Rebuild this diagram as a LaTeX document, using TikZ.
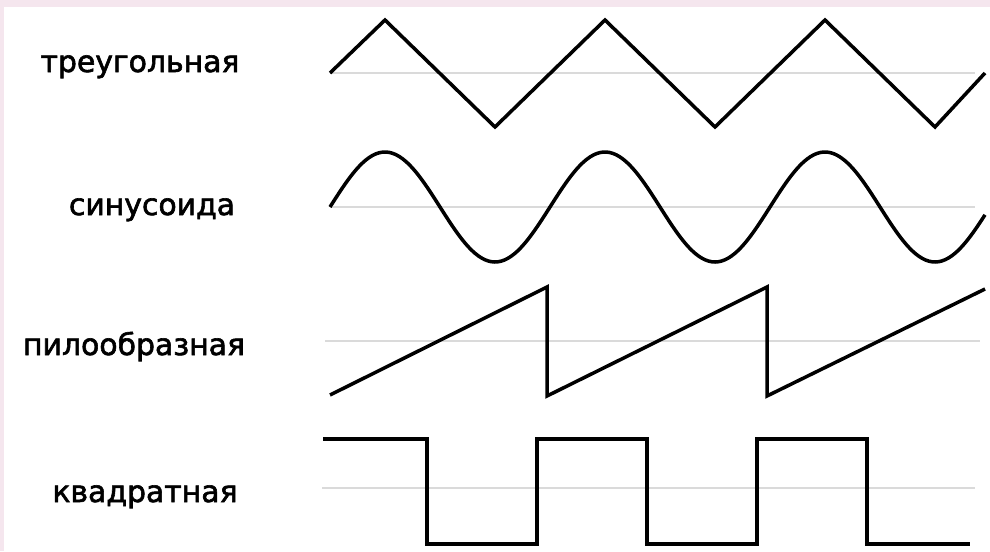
\documentclass[tikz,border=0pt]{standalone}
\usepackage{fontspec}
\setmainfont{DejaVu Sans}
\newfontfamily\labelfont{DejaVu Sans}[FakeBold=2]
\usepackage{tikz}
\usetikzlibrary{positioning}
\definecolor{framepink}{RGB}{245, 230, 238}
\definecolor{axisgray}{RGB}{218, 218, 218}

\begin{document}
\begin{tikzpicture}[x=0.02cm, y=-0.02cm,
    wave/.style={black, line width=2pt, line join=miter},
    axis/.style={axisgray, line width=1.1pt},
    label/.style={anchor=base, font=\labelfont\fontsize{17}{19}\selectfont, inner sep=0pt}]
      \useasboundingbox (0,0) rectangle (990,551);
      \fill[framepink] (0,0) rectangle (990,551);
      \fill[white] (4,7) rectangle (990,551);
      % labels
      \node[label] (tri) at (140,72) {треугольная};
      \node[label] (sin) at (152,215) {синусоида};
      \node[label] (saw) at (134,355) {пилообразная};
      \node[label] (sqr) at (145,502) {квадратная};
      % zero lines
      \draw[axis] (330,73) -- (975,73);
      \draw[axis] (330,207) -- (975,207);
      \draw[axis] (325,341) -- (980,341);
      \draw[axis] (322,488) -- (975,488);
      % waves
      \draw[wave] (330,73) -- (385,20) -- (495,127) -- (605,20) -- (715,127)
        -- (825,20) -- (935,127) -- (985,73);
      \draw[wave, domain=330:985, samples=200, smooth]
        plot (\x, {207 - 55*sin((\x-330)*1.636364)});
      \draw[wave] (330,395) -- (547,287) -- (547,396) -- (767,287) -- (767,396)
        -- (985,289);
      \draw[wave] (323,439) -- (427,439) -- (427,544) -- (537,544) -- (537,439)
        -- (647,439) -- (647,544) -- (757,544) -- (757,439) -- (867,439)
        -- (867,544) -- (970,544);
    \end{tikzpicture}
\end{document}
